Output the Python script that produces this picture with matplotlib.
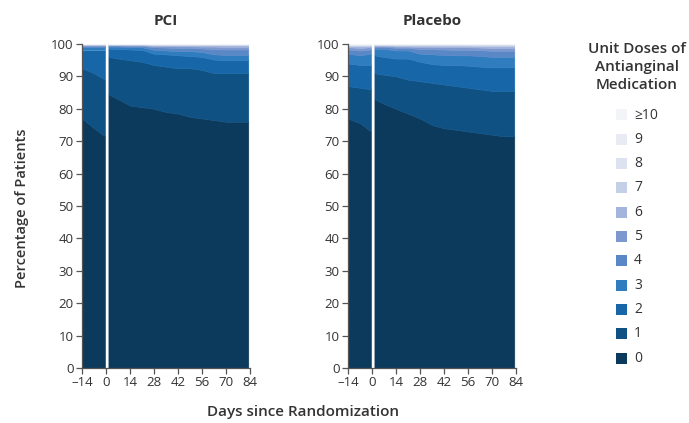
import matplotlib
matplotlib.use("Agg")
import matplotlib.pyplot as plt
from matplotlib.patches import Rectangle

plt.rcParams["font.family"] = ["Open Sans", "DejaVu Sans"]

categories = ["0", "1", "2", "3", "4", "5", "6", "7", "8", "9", "≥10"]
colors = ["#0c3a5c", "#0f5183", "#1767a8", "#2f7cbf", "#5a88c6", "#7c98cf",
          "#a3b5dc", "#c4cfe8", "#dce2f0", "#e8ebf3", "#f3f4f7"]

x_ticks = [-14, 0, 14, 28, 42, 56, 70, 84]
y_ticks = list(range(0, 101, 10))

pre_days = [-14, -7, -0.6]
post_days = [1.4, 7, 14, 21, 28, 35, 42, 49, 56, 63, 70, 77, 83]

# percentage of patients per dose category (rows: 0, 1, 2, ... >=10)
pci_pre = [
    [77.0, 74.0, 71.5],
    [15.5, 17.0, 17.5],
    [5.5, 7.0, 9.0],
    [1.0, 1.0, 1.0],
    [0.4, 0.4, 0.4],
    [0.2, 0.2, 0.2],
    [0.15, 0.15, 0.15],
    [0.1, 0.1, 0.1],
    [0.05, 0.05, 0.05],
    [0.05, 0.05, 0.05],
    [0.05, 0.05, 0.05],
]
pci_post = [
    [84.5, 83, 81, 80.5, 80, 79, 78.5, 77.5, 77, 76.5, 76, 76, 76],
    [11.5, 12.5, 14, 14, 13.5, 14, 14, 15, 15, 14.5, 15, 15, 15],
    [2.5, 3.0, 3.3, 3.7, 3.5, 3.8, 4.0, 3.8, 4.0, 4.2, 4.0, 4.0, 4.0],
    [0.7, 0.7, 0.7, 0.8, 1.2, 1.2, 1.3, 1.5, 1.5, 1.6, 1.6, 1.6, 1.6],
    [0.3, 0.3, 0.4, 0.4, 0.8, 0.9, 1.0, 1.0, 1.1, 1.6, 1.7, 1.7, 1.7],
    [0.2, 0.2, 0.2, 0.2, 0.4, 0.5, 0.5, 0.5, 0.6, 0.8, 0.8, 0.8, 0.8],
    [0.1, 0.1, 0.2, 0.2, 0.3, 0.3, 0.3, 0.3, 0.4, 0.4, 0.5, 0.5, 0.5],
    [0.1, 0.1, 0.1, 0.1, 0.1, 0.1, 0.2, 0.2, 0.2, 0.2, 0.2, 0.2, 0.2],
    [0.05, 0.05, 0.05, 0.05, 0.1, 0.1, 0.1, 0.1, 0.1, 0.1, 0.1, 0.1, 0.1],
    [0.05] * 13,
    [0.05] * 13,
]
placebo_pre = [
    [77.0, 75.5, 73.0],
    [10.0, 11.0, 13.0],
    [7.0, 7.0, 7.5],
    [3.0, 3.0, 3.5],
    [1.3, 1.5, 1.3],
    [0.7, 0.8, 0.7],
    [0.4, 0.5, 0.4],
    [0.2, 0.3, 0.2],
    [0.2, 0.2, 0.2],
    [0.1, 0.1, 0.1],
    [0.1, 0.1, 0.1],
]
placebo_post = [
    [83, 81.5, 80, 78.5, 77, 75, 74, 73.5, 73, 72.5, 72, 71.5, 71.5],
    [8, 9, 10, 10.5, 11.5, 13, 13.5, 13.5, 13.5, 13.5, 13.5, 14, 14],
    [5.5, 5.5, 5.5, 6.5, 6, 5.8, 6, 6.5, 6.8, 7, 7.3, 7.3, 7.3],
    [2, 2.5, 2.5, 2.5, 2.5, 3, 3.1, 3, 3.2, 3.3, 3.2, 3.2, 3.2],
    [0.6, 0.6, 0.8, 0.8, 1.4, 1.6, 1.7, 1.7, 1.7, 1.8, 1.9, 1.9, 1.9],
    [0.3, 0.3, 0.4, 0.4, 0.7, 0.7, 0.7, 0.8, 0.8, 0.8, 0.9, 0.9, 0.9],
    [0.2, 0.2, 0.3, 0.3, 0.4, 0.4, 0.5, 0.5, 0.5, 0.5, 0.6, 0.6, 0.6],
    [0.2, 0.2, 0.3, 0.3, 0.3, 0.3, 0.3, 0.3, 0.3, 0.4, 0.4, 0.4, 0.4],
    [0.1] * 13,
    [0.05] * 13,
    [0.05] * 13,
]

text_color = "#333333"
spine_color = "#555555"

fig = plt.figure(figsize=(6.89, 4.23), dpi=100)
W, H = 689, 423


def px_axes(left, top, right, bottom):
    return fig.add_axes([left / W, 1 - bottom / H, (right - left) / W, (bottom - top) / H])


panels = [
    ("PCI", pci_pre, pci_post, (82, 44, 250, 368)),
    ("Placebo", placebo_pre, placebo_post, (348, 44, 516, 368)),
]

for title, pre, post, box in panels:
    ax = px_axes(*box)
    ax.stackplot(pre_days, *pre, colors=colors, edgecolor="face", linewidth=0.4)
    ax.stackplot(post_days, *post, colors=colors, edgecolor="face", linewidth=0.4)
    ax.set_xlim(-14, 84)
    ax.set_ylim(0, 100)
    ax.set_xticks(x_ticks)
    ax.set_xticklabels([str(t).replace("-", "\u2013") for t in x_ticks])
    ax.set_yticks(y_ticks)
    for s in ["top", "right"]:
        ax.spines[s].set_visible(False)
    for s in ["left", "bottom"]:
        ax.spines[s].set_color(spine_color)
        ax.spines[s].set_linewidth(0.9)
    ax.tick_params(direction="out", length=4, width=0.9, color=spine_color,
                   labelsize=9.5, labelcolor=text_color, pad=2)
    ax.set_title(title, fontsize=11, fontweight="bold", color=text_color, pad=14)

fig.text(22 / W, 1 - 208 / H, "Percentage of Patients", rotation=90, ha="center",
         va="center", fontsize=10.5, fontweight="semibold", color=text_color)
fig.text(303 / W, 1 - 412 / H, "Days since Randomization", ha="center",
         va="center", fontsize=11, fontweight="semibold", color=text_color)

fig.text(637 / W, 1 - 67 / H, "Unit Doses of\nAntianginal\nMedication", ha="center",
         va="center", fontsize=11, fontweight="semibold", color=text_color,
         linespacing=1.35)

# legend, top row is >=10 down to 0
for i, (cat, col) in enumerate(zip(categories[::-1], colors[::-1])):
    yc = 115 + i * 24.3
    fig.add_artist(Rectangle((616 / W, 1 - (yc + 5.5) / H), 11 / W, 11 / H,
                             transform=fig.transFigure, facecolor=col, edgecolor="none"))
    fig.text(634 / W, 1 - yc / H, cat, ha="left", va="center", fontsize=10,
             color=text_color)

fig.savefig("out.png", dpi=100)
